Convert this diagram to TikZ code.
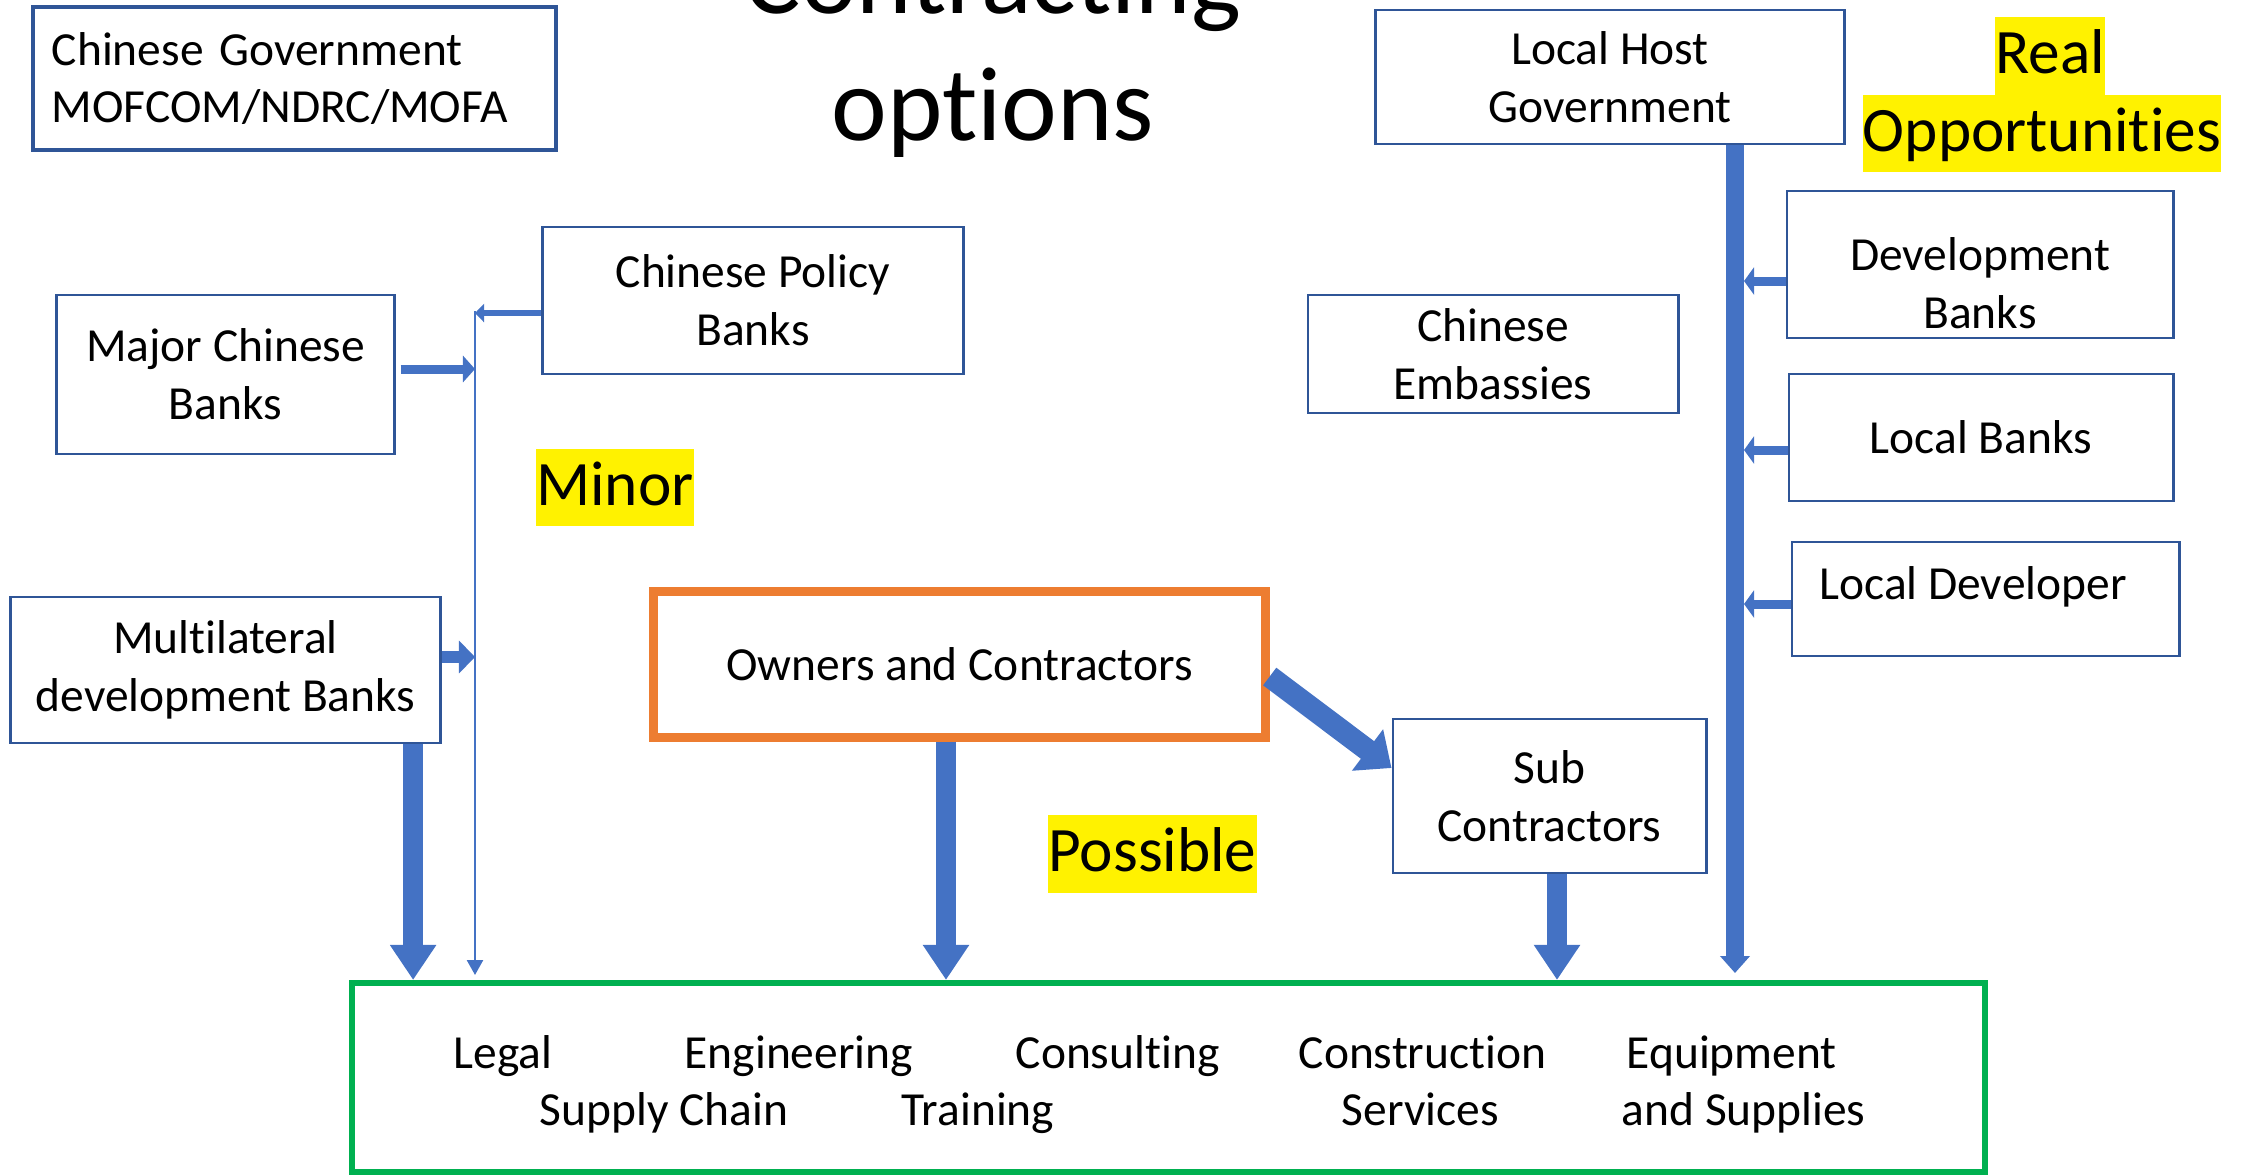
\documentclass[tikz,border=0pt]{standalone}
\usepackage{fontspec}
\setmainfont{Carlito}[RawFeature={-liga;-clig;-dlig;-calt}]
\usetikzlibrary{arrows.meta}
\definecolor{boxblue}{HTML}{2F5597}
\definecolor{arrowblue}{HTML}{4472C4}
\definecolor{boxorange}{HTML}{ED7D31}
\definecolor{boxgreen}{HTML}{00B050}
\newcommand{\dgfont}{\fontsize{13.5}{16.4}\selectfont}
\newcommand{\hlfont}{\fontsize{18}{21.6}\selectfont}
\newcommand{\ttlfont}{\fontsize{30}{30}\selectfont}
\tikzset{
    box/.style={draw=boxblue, line width=0.8pt, align=center, font=\dgfont, inner sep=0pt},
    hl/.style={fill=yellow, font=\hlfont, inner sep=0pt, text height=5.6mm, text depth=2.1mm},
    item/.style={anchor=base west, font=\dgfont, inner sep=0pt},
    blockarrow/.style n args={3}{draw=arrowblue, line width=#1, -{Triangle[width=#2,length=#3]}},
}
\begin{document}
\begin{tikzpicture}[x=0.01cm, y=-0.01cm]
    \useasboundingbox (0,0) rectangle (2254,1175);
    % title (top line runs off the page)
    \node[anchor=base, font=\ttlfont, inner sep=0pt] (title) at (993,13) {Contracting};
    \node[anchor=base, font=\ttlfont, inner sep=0pt] (title2) at (993,140) {options};
    % boxes
    \node[box, text width=4.85cm, inner xsep=0.19cm, minimum height=1.43cm, align=left, line width=1pt] (gov) at (294.5,78.5) {Chinese Government\\MOFCOM/NDRC/MOFA};
    \node[box, minimum width=3.37cm, minimum height=1.59cm] (major) at (225.5,374.5) {Major Chinese\\Banks};
    \node[box, minimum width=4.2cm, minimum height=1.47cm] (policy) at (753,300.5) {Chinese Policy\\Banks};
    \node[box, minimum width=4.29cm, minimum height=1.46cm] (multi) at (225.5,670) {Multilateral\\development Banks};
    \node[box, draw=boxorange, line width=0.9mm, minimum width=6.11cm, minimum height=1.45cm] (owners) at (959.5,664.5) {Owners and Contractors};
    \node[box, minimum width=3.13cm, minimum height=1.54cm] (sub) at (1549.5,796) {Sub\\Contractors};
    \node[box, minimum width=3.7cm, minimum height=1.18cm] (embassy) at (1493,354) {Chinese\\Embassies};
    \node[box, minimum width=4.68cm, minimum height=1.34cm] (host) at (1610,77) {Local Host\\Government};
    \node[box, minimum width=3.86cm, minimum height=1.47cm] (devbanks) at (1980,264.5) {};
    \node[font=\dgfont, align=center, inner sep=0pt] (devbankstext) at (1980,283) {Development\\Banks};
    \node[box, minimum width=3.84cm, minimum height=1.27cm] (localbanks) at (1981,437.5) {Local Banks};
    \node[box, minimum width=3.87cm, minimum height=1.14cm] (localdev) at (1985.5,599) {};
    \node[font=\dgfont, inner sep=0pt] (localdevtext) at (1973,587) {Local Developer};
    \node[box, draw=boxgreen, line width=0.6mm, minimum width=16.33cm, minimum height=1.89cm] (services) at (1168.5,1077.5) {};
    % what the green box holds
    \node[item] (legal) at (453,1068) {Legal};
    \node[item] (engineering) at (684,1068) {Engineering};
    \node[item] (consulting) at (1015,1068) {Consulting};
    \node[item] (construction) at (1298,1068) {Construction};
    \node[item] (equipment) at (1626,1068) {Equipment};
    \node[item] (supply) at (539,1125) {Supply Chain};
    \node[item] (training) at (901,1125) {Training};
    \node[item] (cservices) at (1341,1125) {Services};
    \node[item] (supplies) at (1621,1125) {and Supplies};
    % highlighted notes
    \node[hl] (real) at (2050,56) {Real};
    \node[hl] (opps) at (2042,133.5) {Opportunities};
    \node[hl] (minor) at (615,487.5) {Minor};
    \node[hl] (possible) at (1152.5,854) {Possible};
    % thin line on the left
    \coordinate (bustop) at (475,311);
    \coordinate (busend) at (475,975);
    \draw[draw=arrowblue, line width=0.25mm, -{Triangle[width=1.6mm,length=1.5mm]}] (bustop) -- (busend);
    \draw[blockarrow={0.6mm}{1.8mm}{0.9mm}] ([yshift=-0.125cm]policy.west) -- ([yshift=-0.125cm]policy.west -| busend);
    \draw[blockarrow={0.9mm}{2.6mm}{1.2mm}, shorten <=0.5mm] ([yshift=0.055cm]major.east) -- ([yshift=0.055cm]major.east -| busend);
    \draw[blockarrow={1.2mm}{3.2mm}{1.6mm}] ([yshift=0.13cm]multi.east) -- ([yshift=0.13cm]multi.east -| busend);
    % bar on the right
    \coordinate (barend) at (1735,973);
    \draw[blockarrow={1.8mm}{2.9mm}{1.7mm}] (host.south -| barend) -- (barend);
    \draw[blockarrow={0.9mm}{2.7mm}{1.0mm}, shorten >=0.09cm] ([yshift=-0.165cm]devbanks.west) -- ([yshift=-0.165cm]devbanks.west -| barend);
    \draw[blockarrow={0.9mm}{2.7mm}{1.0mm}, shorten >=0.09cm] ([yshift=-0.125cm]localbanks.west) -- ([yshift=-0.125cm]localbanks.west -| barend);
    \draw[blockarrow={0.9mm}{2.7mm}{1.0mm}, shorten >=0.09cm] ([yshift=-0.05cm]localdev.west) -- ([yshift=-0.05cm]localdev.west -| barend);
    % big arrows down
    \draw[blockarrow={2mm}{4.4mm}{3.5mm}] ([xshift=1.875cm]multi.south) -- ([xshift=1.875cm]multi.south |- services.north);
    \draw[blockarrow={2mm}{4.4mm}{3.5mm}] ([xshift=-0.135cm]owners.south) -- ([xshift=-0.135cm]owners.south |- services.north);
    \draw[blockarrow={2mm}{4.4mm}{3.5mm}] ([xshift=0.075cm]sub.south) -- ([xshift=0.075cm]sub.south |- services.north);
    \draw[blockarrow={2.2mm}{5mm}{3mm}] ([yshift=-0.12cm]owners.east) -- ([yshift=0.28cm]sub.west);
\end{tikzpicture}
\end{document}
